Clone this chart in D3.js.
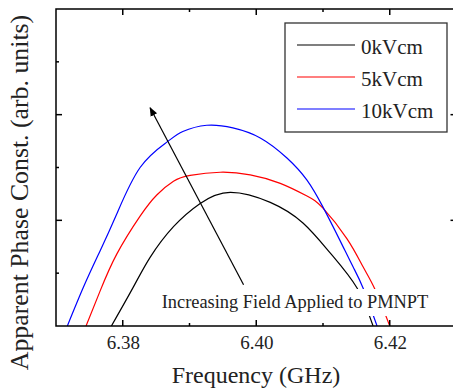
<!DOCTYPE html>
<html>
<head>
<meta charset="utf-8">
<script src="https://cdn.jsdelivr.net/npm/d3@7"></script>
<style>
  body { margin: 0; background: #fff; }
  svg { display: block; }
  svg text { font-family: "Liberation Serif", "Times New Roman", serif; }
</style>
</head>
<body>
<div id="chart"></div>
<script>
// values (arbitrary units)
const freq0 = [6.3783, 6.3816, 6.3841, 6.3876, 6.3916, 6.3961, 6.4021, 6.4070, 6.4111, 6.4151, 6.4175];
const val0  = [0, 0.74, 1.30, 1.88, 2.32, 2.53, 2.34, 1.95, 1.38, 0.72, 0];

const freq5 = [6.3745, 6.3766, 6.3791, 6.3826, 6.3851, 6.3876, 6.3901, 6.3946, 6.3991, 6.4036, 6.4076, 6.4100, 6.4136, 6.4160, 6.4178, 6.4200];
const val5  = [0, 0.66, 1.36, 2.08, 2.48, 2.74, 2.85, 2.91, 2.86, 2.70, 2.46, 2.23, 1.65, 1.12, 0.69, 0];

const freq10 = [6.3717, 6.3742, 6.3766, 6.3791, 6.3826, 6.3866, 6.3890, 6.3926, 6.3965, 6.4006, 6.4046, 6.4076, 6.4100, 6.4125, 6.4145, 6.4160, 6.4181];
const val10  = [0, 0.76, 1.42, 2.12, 3.00, 3.48, 3.68, 3.80, 3.75, 3.56, 3.18, 2.76, 2.25, 1.63, 1.12, 0.72, 0];

const seriesNames = ["0kVcm", "5kVcm", "10kVcm"];
const seriesColors = ["#000000", "#ff0000", "#0000ff"];
const xTicks = [6.38, 6.39, 6.40, 6.41, 6.42];
const xMajor = [6.38, 6.40, 6.42];
const yTicks = [1, 2, 3, 4, 5];
const yMajor = [2, 4];

const W = 453, H = 391;
const x = d3.scaleLinear().domain([6.37, 6.43]).range([56, 456.5]);
const y = d3.scaleLinear().domain([0, 6]).range([326, 9]);

const svg = d3.select("#chart").append("svg").attr("width", W).attr("height", H);

svg.append("clipPath").attr("id", "plot")
  .append("rect")
  .attr("x", x(6.37)).attr("y", y(6))
  .attr("width", x(6.43) - x(6.37)).attr("height", y(0) - y(6));

const series = [
  { name: seriesNames[0], color: seriesColors[0], pts: freq0.map((f, i) => [f, val0[i]]) },
  { name: seriesNames[1], color: seriesColors[1], pts: freq5.map((f, i) => [f, val5[i]]) },
  { name: seriesNames[2], color: seriesColors[2], pts: freq10.map((f, i) => [f, val10[i]]) }
];

const line = d3.line().x(d => x(d[0])).y(d => y(d[1])).curve(d3.curveNatural);

const g = svg.append("g").attr("clip-path", "url(#plot)");
g.selectAll("path.curve")
  .data(series)
  .enter()
  .append("path")
  .attr("class", "curve")
  .attr("d", d => line(d.pts))
  .attr("fill", "none")
  .attr("stroke", d => d.color)
  .attr("stroke-width", 1.2);

// arrow
svg.append("defs").append("marker")
  .attr("id", "head")
  .attr("viewBox", "0 0 10 10")
  .attr("refX", 9).attr("refY", 5)
  .attr("markerWidth", 9).attr("markerHeight", 9)
  .attr("markerUnits", "userSpaceOnUse")
  .attr("orient", "auto")
  .append("path").attr("d", "M0,1 L10,5 L0,9 Z").attr("fill", "#000");

svg.append("line")
  .attr("x1", x(6.3981)).attr("y1", y(0.78))
  .attr("x2", x(6.3841)).attr("y2", y(4.13))
  .attr("stroke", "#000").attr("stroke-width", 1.2)
  .attr("marker-end", "url(#head)");

// label with white box
const label = svg.append("g");
const lt = label.append("text")
  .attr("x", 295).attr("y", 308)
  .attr("text-anchor", "middle")
  .style("font-size", "18.4px")
  .style("fill", "#222")
  .text("Increasing Field Applied to PMNPT");
const bb = lt.node().getBBox();
label.insert("rect", "text")
  .attr("x", bb.x - 4).attr("y", 289)
  .attr("width", bb.width + 8).attr("height", 27)
  .attr("fill", "#fff");

// axes
svg.append("g").attr("transform", `translate(0,${y(0)})`)
  .call(d3.axisBottom(x).tickValues(xMajor).tickSize(0).tickPadding(10).tickFormat(d3.format(".2f")))
  .call(a => a.select(".domain").remove())
  .call(a => a.selectAll("text").style("font-size", "19px").attr("fill", "#222"));

function tickLen(v, major) { return major.some(m => Math.abs(m - v) < 1e-9) ? 6 : 3; }

const frame = svg.append("g").attr("stroke", "#000").attr("stroke-width", 1.5);
xTicks.forEach(t => {
  const L = tickLen(t, xMajor);
  frame.append("line").attr("x1", x(t)).attr("x2", x(t)).attr("y1", y(0)).attr("y2", y(0) - L);
  frame.append("line").attr("x1", x(t)).attr("x2", x(t)).attr("y1", y(6)).attr("y2", y(6) + L);
});
yTicks.forEach(t => {
  const L = tickLen(t, yMajor);
  frame.append("line").attr("x1", x(6.37)).attr("x2", x(6.37) + L).attr("y1", y(t)).attr("y2", y(t));
  frame.append("line").attr("x1", x(6.43)).attr("x2", x(6.43) - L).attr("y1", y(t)).attr("y2", y(t));
});
frame.append("rect")
  .attr("x", x(6.37)).attr("y", y(6))
  .attr("width", x(6.43) - x(6.37)).attr("height", y(0) - y(6))
  .attr("fill", "none");

// axis titles
svg.append("text")
  .attr("x", 256).attr("y", 383)
  .attr("text-anchor", "middle")
  .style("font-size", "24px").style("fill", "#222")
  .text("Frequency (GHz)");

svg.append("text")
  .attr("transform", "translate(28,192.5) rotate(-90)")
  .attr("text-anchor", "middle")
  .style("font-size", "25.8px").style("fill", "#222")
  .text("Apparent Phase Const. (arb. units)");

// legend
const legend = svg.append("g").attr("transform", "translate(285,23)");
legend.append("rect")
  .attr("width", 162).attr("height", 109)
  .attr("fill", "#fff").attr("stroke", "#333").attr("stroke-width", 1.3);
const items = legend.selectAll(".item")
  .data(series)
  .enter()
  .append("g")
  .attr("transform", (d, i) => `translate(0,${22 + i * 32})`);
items.append("line")
  .attr("x1", 12).attr("x2", 70)
  .attr("stroke", d => d.color).attr("stroke-width", 1.2);
items.append("text")
  .attr("x", 76).attr("y", 9)
  .style("font-size", "21px").style("fill", "#222")
  .text(d => d.name);
</script>
</body>
</html>
